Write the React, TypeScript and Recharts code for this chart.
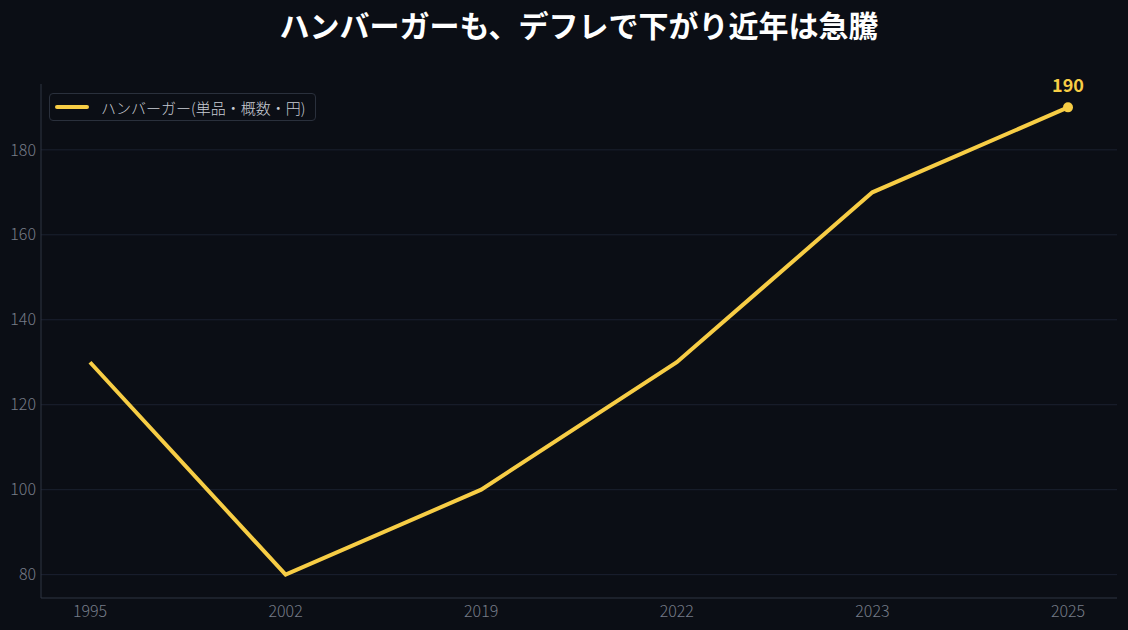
import React from "react";
import { LineChart, Line, XAxis, YAxis, CartesianGrid, LabelList } from "recharts";

const years = ["1995", "2002", "2019", "2022", "2023", "2025"];
const prices = [130, 80, 100, 130, 170, 190];
const yTicks = [80, 100, 120, 140, 160, 180];

const data = years.map((y, i) => ({ year: y, price: prices[i] }));

const FONT = "'Noto Sans CJK JP', 'Noto Sans', sans-serif";
const BG = "#0b0e15";
const YELLOW = "#f7cd45";

const LegendBox = () => (
  <div
    style={{
      position: "absolute",
      left: 49,
      top: 93,
      height: 26,
      boxSizing: "content-box",
      display: "flex",
      alignItems: "center",
      border: "1px solid #2a303c",
      borderRadius: 4,
      padding: "0 10px 0 5px",
      background: BG,
      fontFamily: FONT,
      fontSize: 15,
      fontWeight: 300,
      color: "#c8ccd4",
      zIndex: 2,
    }}
  >
    <span
      style={{
        display: "inline-block",
        width: 34,
        height: 4,
        borderRadius: 2,
        background: YELLOW,
        marginRight: 12,
      }}
    />
    ハンバーガー(単品・概数・円)
  </div>
);

const LastDot = (props: any) => {
  const { cx, cy, index } = props;
  if (index !== data.length - 1) return <g key={index} />;
  return <circle key={index} cx={cx} cy={cy} r={5} fill={YELLOW} />;
};

const LastLabel = (props: any) => {
  const { x, y, index, value } = props;
  if (index !== data.length - 1) return null;
  return (
    <text x={x} y={y - 15} textAnchor="middle" fill={YELLOW} fontSize={18} fontWeight={700} fontFamily={FONT}>
      {value}
    </text>
  );
};

const tickStyle = { fill: "#767c88", fontSize: 16, fontFamily: FONT, fontWeight: 300 };

export default function App() {
  return (
    <div style={{ position: "absolute", left: 0, top: 0, width: 1128, height: 630, background: BG }}>
      <div
        style={{
          position: "absolute",
          left: 41,
          width: 1076,
          top: 2,
          textAlign: "center",
          color: "#ffffff",
          fontFamily: FONT,
          fontWeight: 700,
          fontSize: 30,
          lineHeight: "44px",
        }}
      >
        ハンバーガーも、デフレで下がり近年は急騰
      </div>
      <LineChart
        width={1128}
        height={630}
        data={data}
        margin={{ top: 84, right: 11, bottom: 1, left: 0 }}
        style={{ position: "absolute", left: 0, top: 0 }}
      >
        <CartesianGrid vertical={false} horizontalValues={yTicks} stroke="#1b2130" strokeWidth={1} />
        <XAxis
          dataKey="year"
          padding={{ left: 49, right: 49 }}
          height={31}
          stroke="#2e3442"
          tickLine={false}
          tick={tickStyle}
          tickSize={5}
          tickMargin={3}
        />
        <YAxis
          width={41}
          domain={[74.5, 195.5]}
          ticks={yTicks}
          stroke="#2e3442"
          tickLine={false}
          tick={tickStyle}
          tickSize={5}
          tickMargin={0}
        />
        <Line
          type="linear"
          dataKey="price"
          stroke={YELLOW}
          strokeWidth={4}
          dot={<LastDot />}
          activeDot={false}
          isAnimationActive={false}
        >
          <LabelList dataKey="price" content={<LastLabel />} />
        </Line>
      </LineChart>
      <LegendBox />
    </div>
  );
}
